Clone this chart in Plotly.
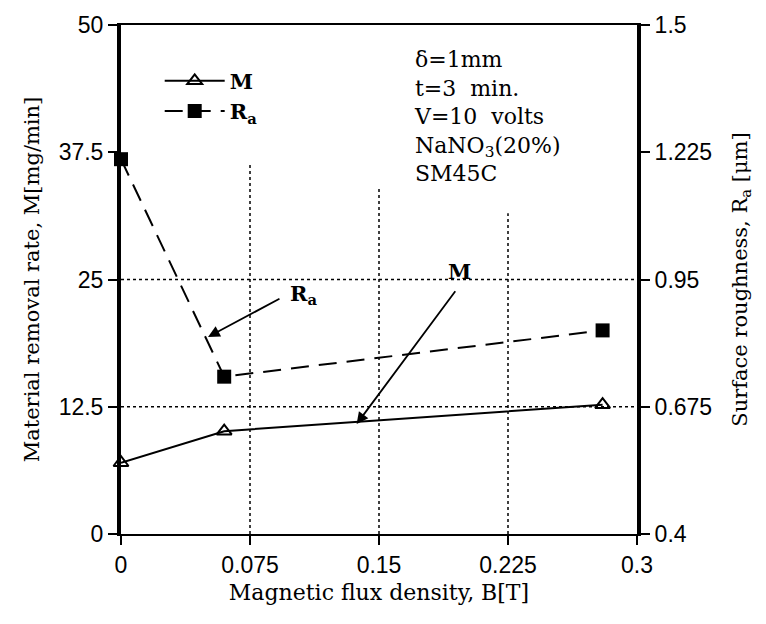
import plotly.graph_objects as go

# Data
B = [0.0, 0.06, 0.28]
M = [7.0, 10.1, 12.7]
Ra = [1.21, 0.74, 0.84]

x_ticks = [0, 0.075, 0.15, 0.225, 0.3]
x_tick_text = ["0", "0.075", "0.15", "0.225", "0.3"]
y_ticks = [0, 12.5, 25, 37.5, 50]
y_tick_text = ["0", "12.5", "25", "37.5", "50"]
y2_ticks = [0.4, 0.675, 0.95, 1.225, 1.5]
y2_tick_text = ["0.4", "0.675", "0.95", "1.225", "1.5"]

# grid segments (x position, top extent in left-axis units)
vgrid = [(0.075, 36.5), (0.15, 34), (0.225, 31.5)]
hgrid = [12.5, 25]

serif = "DejaVu Serif"
sans = "Liberation Sans"

fig = go.Figure()
fig.add_trace(go.Scatter(
    x=B, y=M, mode="lines+markers", name="<b>M</b>",
    line=dict(color="black", width=2),
    marker=dict(symbol="triangle-up-open", size=13, color="black", line=dict(width=2)),
    cliponaxis=False,
))
fig.add_trace(go.Scatter(
    x=B, y=Ra, mode="lines+markers", name="<b>R<sub>a</sub></b>", yaxis="y2",
    line=dict(color="black", width=2, dash="18px,10px"),
    marker=dict(symbol="square", size=14, color="black"),
    cliponaxis=False,
))

shapes = []
for xv, top in vgrid:
    shapes.append(dict(type="line", xref="x", yref="y", x0=xv, x1=xv, y0=0, y1=top,
                       line=dict(color="black", width=1.5, dash="dot"), layer="below"))
for yv in hgrid:
    shapes.append(dict(type="line", xref="x", yref="y", x0=0, x1=0.3, y0=yv, y1=yv,
                       line=dict(color="black", width=1.5, dash="dot"), layer="below"))

annotations = [
    dict(x=0.0506, y=0.826, xref="x", yref="y2", ax=0.093, ay=0.91, axref="x", ayref="y2",
         text="", showarrow=True, arrowhead=2, arrowsize=1.3, arrowwidth=1.8, arrowcolor="black"),
    dict(x=0.106, y=0.918, xref="x", yref="y2", text="<b>R<sub>a</sub></b>", showarrow=False,
         font=dict(family=serif, size=21, color="black")),
    dict(x=0.137, y=10.8, xref="x", yref="y", ax=0.195, ay=24.0, axref="x", ayref="y",
         text="", showarrow=True, arrowhead=2, arrowsize=1.3, arrowwidth=1.8, arrowcolor="black"),
    dict(x=0.197, y=25.8, xref="x", yref="y", text="<b>M</b>", showarrow=False,
         font=dict(family=serif, size=21, color="black")),
    dict(x=0.169, y=48.0, xref="x", yref="y", xanchor="left", yanchor="top", align="left",
         text="δ=1mm<br>t=3  min.<br>V=10  volts<br>NaNO<sub>3</sub>(20%)<br>SM45C",
         showarrow=False, font=dict(family=serif, size=22, color="black")),
]

fig.update_layout(
    width=766, height=624,
    margin=dict(l=121, r=129, t=20, b=90),
    paper_bgcolor="white", plot_bgcolor="white",
    showlegend=True,
    legend=dict(x=0.075, y=0.93, xanchor="left", yanchor="top", bgcolor="rgba(0,0,0,0)",
                font=dict(family=serif, size=21, color="black"), itemwidth=60, tracegroupgap=0),
    xaxis=dict(range=[0, 0.3], tickvals=x_ticks, ticktext=x_tick_text,
               showgrid=False, zeroline=False, showline=True, linecolor="black", linewidth=2,
               mirror=True, ticks="outside", ticklen=9, tickwidth=1.5, tickcolor="black",
               tickfont=dict(family=sans, size=23, color="black"),
               title=dict(text="Magnetic flux density, B[T]", standoff=8,
                          font=dict(family=serif, size=22, color="black"))),
    yaxis=dict(range=[0, 50], tickvals=y_ticks, ticktext=y_tick_text,
               showgrid=False, zeroline=False, showline=True, linecolor="black", linewidth=4,
               ticks="outside", ticklen=9, tickwidth=1.5, tickcolor="black",
               tickfont=dict(family=sans, size=23, color="black"),
               title=dict(text="Material removal rate, M[mg/min]", standoff=14,
                          font=dict(family=serif, size=21, color="black"))),
    yaxis2=dict(range=[0.4, 1.5], tickvals=y2_ticks, ticktext=y2_tick_text,
                overlaying="y", side="right",
                showgrid=False, zeroline=False, showline=True, linecolor="black", linewidth=4,
                ticks="outside", ticklen=9, tickwidth=1.5, tickcolor="black",
                tickfont=dict(family=sans, size=23, color="black"),
                title=dict(text="Surface roughness, R<sub>a</sub> [μm]", standoff=22,
                           font=dict(family=serif, size=21, color="black"))),
    shapes=shapes,
    annotations=annotations,
)

fig.write_html("out.html")
